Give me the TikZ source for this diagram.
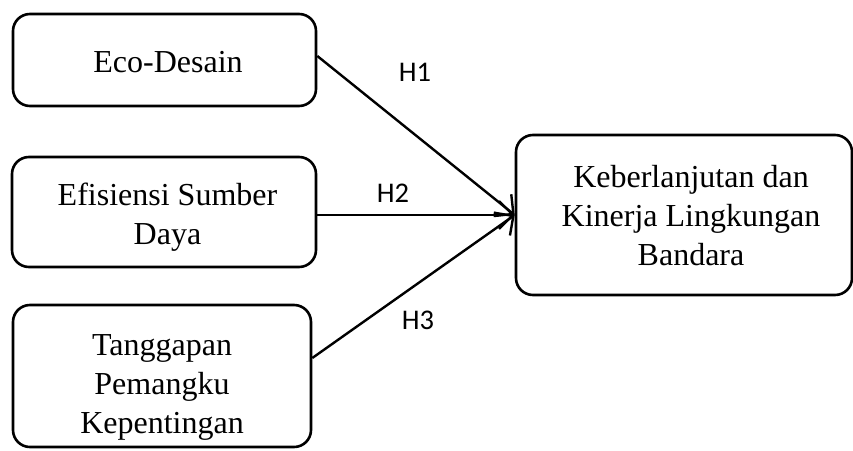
\documentclass[tikz,border=0pt]{standalone}
\usepackage{fontspec}
\setmainfont{Liberation Serif}
\newfontfamily\hfont{Carlito}
\usetikzlibrary{arrows.meta}
\begin{document}
\begin{tikzpicture}[x=1pt,y=-1pt,
  box/.style={draw, line width=2.6pt, rounded corners=17pt, inner sep=0pt},
  txt/.style={font=\fontsize{32}{39}\selectfont, align=center, inner sep=0pt},
  conn/.style={line width=2.4pt, -{Straight Barb[length=14pt,width=28pt,line width=2.4pt]}},
  hlab/.style={font=\hfont\fontsize{28.5}{30}\selectfont, inner sep=0pt}]
\useasboundingbox (0,0) rectangle (853,450);
\clip (0,0) rectangle (853,450);
\node[box, minimum width=303pt, minimum height=92pt] (b1) at (164.5,60) {};
\node[box, minimum width=304pt, minimum height=110pt] (b2) at (164,212) {};
\node[box, minimum width=298pt, minimum height=142pt] (b3) at (162,376) {};
\node[box, minimum width=336pt, minimum height=160pt] (b4) at (684,215) {};
\node[txt] (t1) at (168,62) {Eco-Desain};
\node[txt] (t2) at (167.5,217) {Efisiensi Sumber\\Daya};
\node[txt] (t3) at (162,387) {Tanggapan\\Pemangku\\Kepentingan};
\node[txt] (t4) at (691,216) {Keberlanjutan dan\\Kinerja Lingkungan\\Bandara};
\draw[conn] ([yshift=4pt]b1.east) -- (b4.west);
\draw[conn] ([yshift=-3pt]b2.east) -- (b4.west);
\draw[conn] ([yshift=18pt]b3.east) -- (b4.west);
\node[hlab] (h1) at (415,72) {H1};
\node[hlab] (h2) at (393,193) {H2};
\node[hlab] (h3) at (418,320) {H3};
\end{tikzpicture}
\end{document}
